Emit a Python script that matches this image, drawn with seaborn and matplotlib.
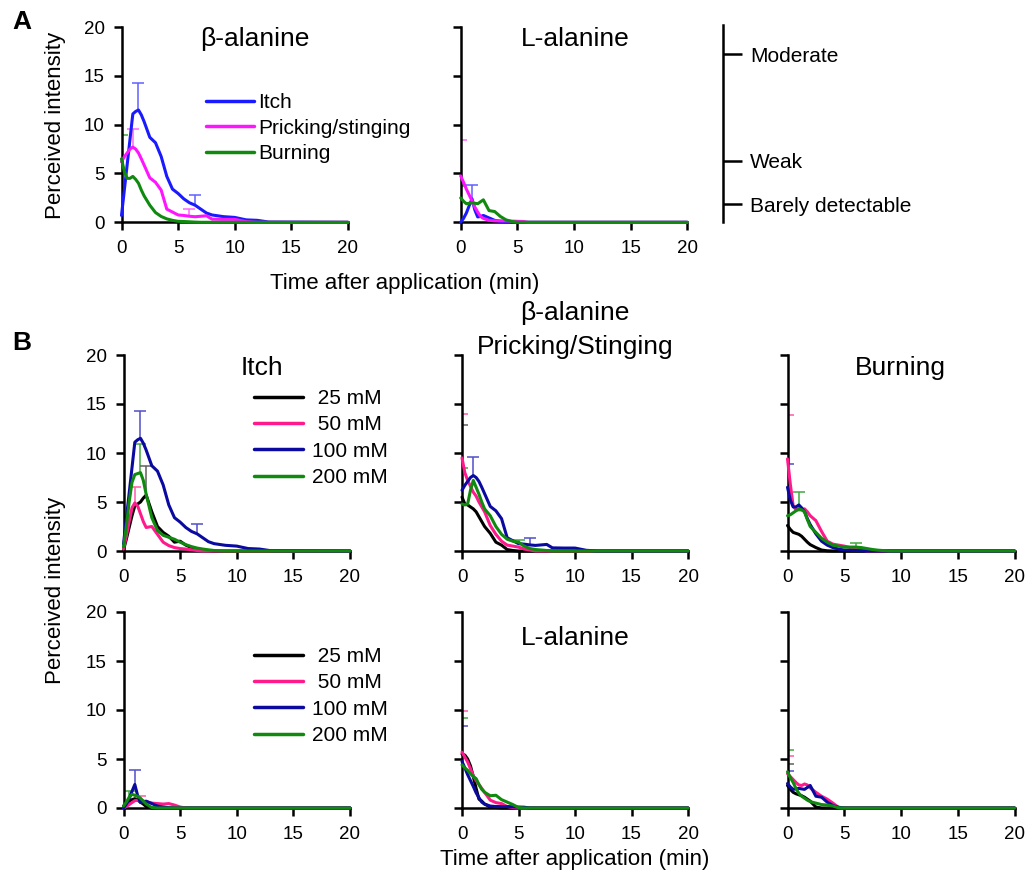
import numpy as np
import pandas as pd
import matplotlib
matplotlib.use("Agg")
import matplotlib.pyplot as plt
import seaborn as sns
from matplotlib.lines import Line2D

# ---------------- data ----------------
T = [0, 0.25, 0.5, 0.75, 1, 1.25, 1.5, 1.75, 2, 2.5, 3, 3.5, 4, 4.5, 5, 5.5, 6, 6.5,
     7, 7.5, 8, 9, 10, 11, 12, 13, 20]

# beta-alanine, itch
IT_B_25 = [0.1, 1.2, 2.4, 3.6, 4.6, 4.8, 5.0, 5.4, 5.7, 4.0, 2.5, 1.9, 1.5, 0.9, 1.0, 0.6, 0.35, 0.2, 0.1, 0.05, 0, 0, 0, 0, 0, 0, 0]
IT_B_50 = [0.2, 1.5, 3.0, 4.4, 4.9, 4.6, 3.8, 3.0, 2.4, 2.5, 1.7, 0.9, 0.55, 0.35, 0.25, 0.2, 0.12, 0.05, 0, 0, 0, 0, 0, 0, 0, 0, 0]
IT_B_100 = [0.7, 3.3, 5.9, 8.5, 11.1, 11.35, 11.5, 11.0, 10.3, 8.7, 8.15, 6.75, 4.7, 3.4, 2.95, 2.4, 2.0, 1.75, 1.35, 0.95, 0.75, 0.58, 0.5, 0.25, 0.2, 0.03, 0]
IT_B_200 = [0.4, 2.5, 5.0, 7.0, 7.8, 7.9, 8.0, 7.2, 5.8, 3.4, 2.1, 1.6, 1.4, 1.2, 0.9, 0.65, 0.45, 0.3, 0.2, 0.12, 0.05, 0, 0, 0, 0, 0, 0]
# beta-alanine, pricking/stinging
PR_B_25 = [5.5, 4.8, 4.7, 4.5, 4.3, 4.0, 3.5, 3.0, 2.5, 1.8, 0.9, 0.6, 0.15, 0.05, 0, 0, 0, 0, 0, 0, 0, 0, 0, 0, 0, 0, 0]
PR_B_50 = [9.5, 8.0, 7.2, 6.6, 6.0, 5.6, 5.0, 4.5, 4.0, 2.6, 1.7, 1.0, 0.6, 0.5, 0.4, 0.2, 0.1, 0, 0, 0, 0, 0, 0, 0, 0, 0, 0]
PR_B_100 = [6.2, 6.7, 7.1, 7.5, 7.7, 7.5, 7.1, 6.5, 5.85, 4.55, 4.1, 3.3, 1.35, 1.05, 0.75, 0.7, 0.62, 0.57, 0.62, 0.67, 0.32, 0.3, 0.3, 0.07, 0, 0, 0]
PR_B_200 = [4.8, 4.7, 4.8, 6.2, 7.2, 6.5, 5.8, 5.0, 4.3, 3.6, 2.5, 1.7, 1.2, 1.0, 0.9, 0.5, 0.25, 0.15, 0.1, 0.05, 0, 0, 0, 0, 0, 0, 0]
# beta-alanine, burning
BU_B_25 = [2.6, 2.2, 1.9, 1.8, 1.7, 1.5, 1.2, 0.9, 0.65, 0.35, 0.1, 0.02, 0, 0, 0, 0, 0, 0, 0, 0, 0, 0, 0, 0, 0, 0, 0]
BU_B_50 = [9.4, 6.8, 4.6, 4.2, 4.2, 4.2, 4.3, 4.0, 3.6, 3.1, 2.0, 1.0, 0.7, 0.6, 0.5, 0.35, 0.2, 0.1, 0, 0, 0, 0, 0, 0, 0, 0, 0]
BU_B_100 = [6.5, 5.2, 4.5, 4.5, 4.7, 4.4, 4.0, 3.3, 2.7, 1.75, 1.0, 0.6, 0.35, 0.2, 0.1, 0.08, 0.05, 0.02, 0, 0, 0, 0, 0, 0, 0, 0, 0]
BU_B_200 = [3.6, 3.7, 3.9, 4.1, 4.3, 4.2, 4.0, 3.2, 2.5, 1.9, 1.3, 0.9, 0.6, 0.5, 0.4, 0.4, 0.4, 0.35, 0.25, 0.15, 0.08, 0, 0, 0, 0, 0, 0]
# L-alanine, itch
IT_L_25 = [0.2, 0.4, 0.7, 0.85, 0.95, 0.8, 0.6, 0.4, 0.15, 0, 0, 0, 0, 0, 0, 0, 0, 0, 0, 0, 0, 0, 0, 0, 0, 0, 0]
IT_L_50 = [0, 0.15, 0.35, 0.55, 0.75, 0.8, 0.75, 0.7, 0.65, 0.5, 0.45, 0.4, 0.45, 0.3, 0.1, 0, 0, 0, 0, 0, 0, 0, 0, 0, 0, 0, 0]
IT_L_100 = [0, 0.4, 0.95, 1.7, 2.4, 1.25, 0.55, 0.6, 0.7, 0.45, 0.2, 0.1, 0.03, 0, 0, 0, 0, 0, 0, 0, 0, 0, 0, 0, 0, 0, 0]
IT_L_200 = [0.2, 0.6, 1.1, 1.4, 1.3, 1.2, 1.0, 0.7, 0.4, 0.05, 0, 0, 0, 0, 0, 0, 0, 0, 0, 0, 0, 0, 0, 0, 0, 0, 0]
# L-alanine, pricking/stinging
PR_L_25 = [5.5, 5.4, 5.0, 4.3, 3.2, 2.0, 0.9, 0.7, 0.4, 0.1, 0.05, 0, 0, 0, 0, 0, 0, 0, 0, 0, 0, 0, 0, 0, 0, 0, 0]
PR_L_50 = [5.7, 5.2, 4.7, 4.0, 3.3, 2.8, 2.4, 2.0, 1.6, 0.8, 0.55, 0.45, 0.15, 0.05, 0, 0, 0, 0, 0, 0, 0, 0, 0, 0, 0, 0, 0]
PR_L_100 = [4.75, 4.1, 3.4, 2.8, 2.2, 1.55, 1.05, 0.6, 0.4, 0.2, 0.15, 0.15, 0.15, 0.12, 0.1, 0.08, 0, 0, 0, 0, 0, 0, 0, 0, 0, 0, 0]
PR_L_200 = [4.4, 4.1, 3.85, 3.5, 3.2, 3.0, 2.4, 1.9, 1.6, 1.25, 1.3, 0.85, 0.6, 0.35, 0.05, 0, 0, 0, 0, 0, 0, 0, 0, 0, 0, 0, 0]
# L-alanine, burning
BU_L_25 = [2.3, 1.9, 1.6, 1.45, 1.35, 1.25, 1.1, 0.9, 0.7, 0.1, 0, 0, 0, 0, 0, 0, 0, 0, 0, 0, 0, 0, 0, 0, 0, 0, 0]
BU_L_50 = [3.5, 3.2, 2.9, 2.6, 2.35, 2.3, 2.45, 2.35, 2.05, 1.6, 1.2, 0.9, 0.5, 0.05, 0, 0, 0, 0, 0, 0, 0, 0, 0, 0, 0, 0, 0]
BU_L_100 = [2.5, 2.15, 1.9, 1.95, 2.0, 1.95, 1.9, 2.1, 2.3, 1.2, 1.1, 0.6, 0.25, 0.08, 0, 0, 0, 0, 0, 0, 0, 0, 0, 0, 0, 0, 0]
BU_L_200 = [3.7, 3.1, 2.6, 2.0, 1.5, 1.2, 1.0, 0.8, 0.65, 0.5, 0.35, 0.3, 0.2, 0.02, 0, 0, 0, 0, 0, 0, 0, 0, 0, 0, 0, 0, 0]

# error bars: (series label, time, top of bar)
ERR_IT_B = [("100 mM", 1.5, 14.3), ("100 mM", 6.5, 2.8), ("200 mM", 1.5, 10.95),
            ("25 mM", 2.0, 8.7), ("50 mM", 1.0, 6.5)]
ERR_PR_B = [("100 mM", 1.0, 9.6), ("100 mM", 6.0, 1.35), ("50 mM", 0, 14.0),
            ("25 mM", 0, 12.9), ("200 mM", 0, 8.5), ("200 mM", 5.0, 1.15)]
ERR_BU_B = [("100 mM", 0, 8.9), ("50 mM", 0, 13.9), ("200 mM", 1.0, 6.0), ("200 mM", 6.0, 0.8)]
ERR_IT_L = [("100 mM", 1.0, 3.85), ("200 mM", 0.5, 1.75), ("50 mM", 1.5, 1.25)]
ERR_PR_L = [("100 mM", 0, 8.4), ("50 mM", 0, 9.9), ("200 mM", 0, 9.2)]
ERR_BU_L = [("200 mM", 0, 5.9), ("50 mM", 0, 5.3), ("25 mM", 0, 4.5), ("100 mM", 0, 3.75)]

CONC = ["25 mM", "50 mM", "100 mM", "200 mM"]
CONC_LEGEND = [" 25 mM", " 50 mM", "100 mM", "200 mM"]
QUAL = ["Itch", "Pricking/stinging", "Burning"]
SCALE_LABELS = ["Barely detectable", "Weak", "Moderate"]
SCALE_VALUES = [1.85, 6.3, 17.2]
TICKS = [0, 5, 10, 15, 20]

# ---------------- style ----------------
sns.set_theme(style="ticks")
plt.rcParams["font.family"] = ["Liberation Sans", "DejaVu Sans"]
plt.rcParams.update({
    "axes.linewidth": 1.8, "axes.edgecolor": "black",
    "xtick.major.width": 1.8, "ytick.major.width": 1.8,
    "xtick.major.size": 6, "ytick.major.size": 6,
    "xtick.major.pad": 7, "ytick.major.pad": 6,
    "xtick.labelsize": 13.5, "ytick.labelsize": 13.5,
    "xtick.color": "black", "ytick.color": "black", "text.color": "black",
})

CONC_COL = {"25 mM": "#000000", "50 mM": "#ff1a8c", "100 mM": "#0a0aa0", "200 mM": "#0f8a0f"}
CONC_ERR = {"25 mM": "#606060", "50 mM": "#ff5aaa", "100 mM": "#5050c8", "200 mM": "#40a840"}
QUAL_COL = {"Itch": "#1a1aff", "Pricking/stinging": "#ff14ff", "Burning": "#0f8a0f"}
QUAL_ERR = {"Itch": "#6060ff", "Pricking/stinging": "#ff66ff", "Burning": "#40a840"}

W, H = 1032, 877
fig = plt.figure(figsize=(W / 100, H / 100), dpi=100)


def rect(x0, x1, yb, yt):
    return [x0 / W, 1 - yb / H, (x1 - x0) / W, (yb - yt) / H]


def draw_panel(ax, labels, arrays, colors, errcolors, errs, ylab=True):
    rows = []
    for lab, vals in zip(labels, arrays):
        for t, v in zip(T, vals):
            rows.append((lab, t, v))
    df = pd.DataFrame(rows, columns=["series", "t", "v"])
    sns.lineplot(data=df, x="t", y="v", hue="series", hue_order=labels, palette=colors,
                 ax=ax, legend=False, errorbar=None, estimator=None, sort=False, lw=2.2)
    for ln in ax.lines:
        ln.set_clip_on(False)
        ln.set_zorder(3)
    lookup = dict(zip(labels, arrays))
    for lab, t, top in errs:
        v = lookup[lab][T.index(t)]
        eb = ax.errorbar([t], [v], yerr=[[0], [top - v]], fmt="none", ecolor=errcolors[lab],
                         elinewidth=1.1, capsize=4.5, capthick=1.1, zorder=2)
        eb[1][0].set_visible(False)
    ax.set_xlim(0, 20)
    ax.set_ylim(0, 20)
    ax.set_xticks(TICKS)
    ax.set_yticks(TICKS)
    if not ylab:
        ax.set_yticklabels([])
    ax.set_xlabel("")
    ax.set_ylabel("")
    sns.despine(ax=ax)


# ---------------- panel A ----------------
axA1 = fig.add_axes(rect(121.5, 348, 222.3, 27))
draw_panel(axA1, QUAL, [IT_B_100, PR_B_100, BU_B_100], QUAL_COL, QUAL_ERR,
           [("Itch", 1.5, 14.3), ("Itch", 6.5, 2.8), ("Pricking/stinging", 1.0, 9.6),
            ("Pricking/stinging", 6.0, 1.35), ("Burning", 0, 8.9)])
axA2 = fig.add_axes(rect(460.7, 687.3, 222.3, 27))
draw_panel(axA2, QUAL, [IT_L_100, PR_L_100, BU_L_100], QUAL_COL, QUAL_ERR,
           [("Pricking/stinging", 0, 8.4), ("Itch", 1.0, 3.85), ("Burning", 0, 3.75)], ylab=False)

axA1.legend([Line2D([], [], color=QUAL_COL[q], lw=2.5) for q in QUAL], QUAL,
            loc="upper left", bbox_to_anchor=(206 / W, 1 - 93 / H), bbox_transform=fig.transFigure,
            frameon=False, fontsize=15, handlelength=2.3, handletextpad=0.22,
            labelspacing=0.32, borderpad=0, borderaxespad=0)

# intensity scale
axS = fig.add_axes(rect(722, 723, 222.3, 25))
axS.set_ylim(0, 20.2)
axS.set_xticks([])
for s in ["left", "top", "bottom"]:
    axS.spines[s].set_visible(False)
axS.patch.set_visible(False)
axS.yaxis.tick_right()
axS.set_yticks(SCALE_VALUES)
axS.set_yticklabels(SCALE_LABELS, fontsize=15)
axS.tick_params(axis="y", length=14, pad=5.5)

# ---------------- panel B ----------------
cols = [(123.5, 350), (462, 688), (787.5, 1014.5)]
rows_y = [(551, 355), (808, 612)]
B_DATA = [
    [([IT_B_25, IT_B_50, IT_B_100, IT_B_200], ERR_IT_B),
     ([PR_B_25, PR_B_50, PR_B_100, PR_B_200], ERR_PR_B),
     ([BU_B_25, BU_B_50, BU_B_100, BU_B_200], ERR_BU_B)],
    [([IT_L_25, IT_L_50, IT_L_100, IT_L_200], ERR_IT_L),
     ([PR_L_25, PR_L_50, PR_L_100, PR_L_200], ERR_PR_L),
     ([BU_L_25, BU_L_50, BU_L_100, BU_L_200], ERR_BU_L)],
]
axesB = []
for r, (yb, yt) in enumerate(rows_y):
    for c, (x0, x1) in enumerate(cols):
        ax = fig.add_axes(rect(x0, x1, yb, yt))
        arrs, errs = B_DATA[r][c]
        draw_panel(ax, CONC, arrs, CONC_COL, CONC_ERR, errs, ylab=(c == 0))
        axesB.append(ax)

for ax, ytop in [(axesB[0], 389), (axesB[3], 647)]:
    ax.legend([Line2D([], [], color=CONC_COL[k], lw=2.5) for k in CONC], CONC_LEGEND,
              loc="upper left", bbox_to_anchor=(254 / W, 1 - ytop / H), bbox_transform=fig.transFigure,
              frameon=False, fontsize=15, handlelength=2.35, handletextpad=0.45,
              labelspacing=0.35, borderpad=0, borderaxespad=0)

# ---------------- texts ----------------
def ftext(x, y, s, **kw):
    fig.text(x / W, 1 - y / H, s, ha="center", va="center", **kw)

ftext(22, 22, "A", fontsize=19, fontweight="bold")
ftext(22, 343, "B", fontsize=19, fontweight="bold")
ftext(255, 39, "β-alanine", fontsize=19)
ftext(575, 39, "L-alanine", fontsize=19)
ftext(405, 283, "Time after application (min)", fontsize=16)
ftext(55, 125, "Perceived intensity", fontsize=16, rotation=90)
ftext(262, 368, "Itch", fontsize=19)
ftext(575, 313, "β-alanine", fontsize=19)
ftext(575, 347, "Pricking/Stinging", fontsize=19)
ftext(900, 368, "Burning", fontsize=19)
ftext(575, 638, "L-alanine", fontsize=19)
ftext(55, 590, "Perceived intensity", fontsize=16, rotation=90)
ftext(575, 860, "Time after application (min)", fontsize=16)

fig.savefig("out.png", dpi=100)
